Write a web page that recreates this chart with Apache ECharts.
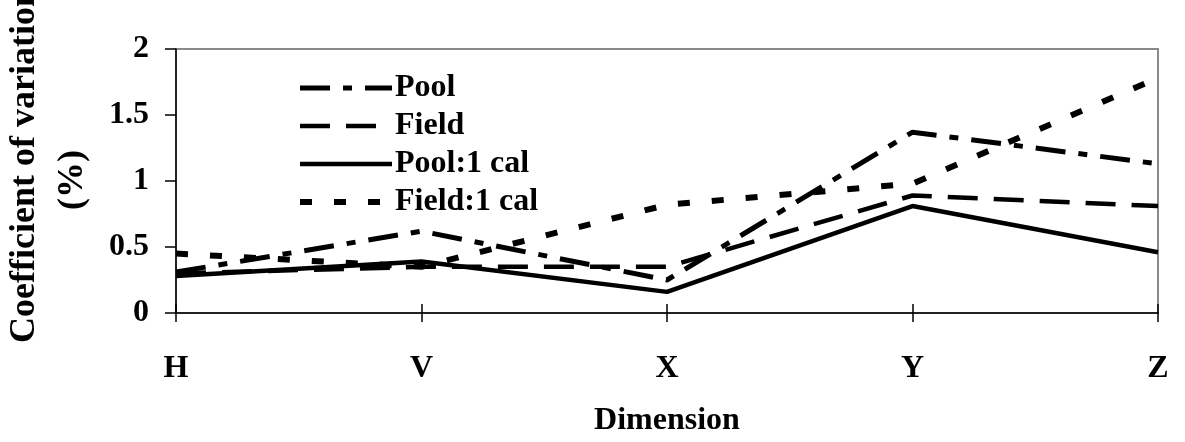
<!DOCTYPE html>
<html><head><meta charset="utf-8">
<script src="https://cdn.jsdelivr.net/npm/echarts@6/dist/echarts.min.js"></script>
<style>html,body{margin:0;padding:0;background:#fff}#c{width:1185px;height:442px}</style>
</head><body><div id="c"></div>
<script>
const categories = ['H','V','X','Y','Z'];
const pool = [0.31, 0.62, 0.25, 1.37, 1.13];
const field = [0.30, 0.35, 0.35, 0.89, 0.81];
const pool1cal = [0.28, 0.39, 0.16, 0.81, 0.46];
const field1cal = [0.45, 0.35, 0.82, 0.98, 1.78];
const yTicks = [0, 0.5, 1, 1.5, 2];
const yTitle1 = 'Coefficient of variation';
const yTitle2 = '(%)';

const font = '"Liberation Serif", "Times New Roman", serif';
const FS = 32;
const chart = echarts.init(document.getElementById('c'));
const dashes = { 'Pool': [30, 13, 9, 13], 'Field': [30, 16], 'Pool:1 cal': 'solid', 'Field:1 cal': [12, 22] };
const widths = { 'Pool': 5, 'Field': 4.5, 'Pool:1 cal': 4.5, 'Field:1 cal': 6 };
const mk = (name, data) => ({
  name, type: 'line', data, symbol: 'none', smooth: false,
  itemStyle: { color: '#000' },
  lineStyle: { color: '#000', width: widths[name], type: dashes[name], cap: 'butt' }
});
chart.setOption({
  animation: false,
  grid: { left: 176, right: 27, top: 49, bottom: 129, show: true, borderColor: '#8a8a8a', borderWidth: 2, backgroundColor: 'transparent', outerBoundsMode: 'none', containLabel: false },
  legend: {
    left: 297, top: 72, padding: 0, orient: 'vertical', itemGap: 6, itemWidth: 92, itemHeight: 14, itemGap: 6,
    textStyle: { fontFamily: font, fontWeight: 'bold', fontSize: FS, color: '#000', padding: [0, 0, 0, -2] },
    itemStyle: { opacity: 0 },
    data: ['Pool','Field','Pool:1 cal','Field:1 cal'].map(n => ({
      name: n, itemStyle: { opacity: 0 },
      lineStyle: { color: '#000', width: widths[n], type: dashes[n], cap: 'butt' }
    }))
  },
  graphic: [
    { type: 'text', x: 25, y: 165, rotation: Math.PI / 2,
      style: { text: yTitle1, font: 'bold 36px "Liberation Serif", serif', fill: '#000', align: 'center', verticalAlign: 'middle' } },
    { type: 'text', x: 73, y: 180, rotation: Math.PI / 2,
      style: { text: yTitle2, font: 'bold 36px "Liberation Serif", serif', fill: '#000', align: 'center', verticalAlign: 'middle' } }
  ],
  xAxis: [{
    type: 'category', data: categories, boundaryGap: false,
    axisLine: { lineStyle: { color: '#000', width: 1.5 } },
    axisTick: { show: true, length: 9, lineStyle: { color: '#000', width: 1.5 } },
    axisLabel: { fontFamily: font, fontWeight: 'bold', fontSize: FS, color: '#000', margin: 40 },
    name: 'Dimension', nameLocation: 'middle', nameGap: 92,
    nameTextStyle: { fontFamily: font, fontWeight: 'bold', fontSize: FS, color: '#000' }
  }, {
    type: 'category', data: categories, boundaryGap: false, position: 'bottom',
    axisLine: { show: false },
    axisTick: { show: true, inside: true, length: 9, lineStyle: { color: '#000', width: 1.5 } },
    axisLabel: { show: false }
  }],
  yAxis: {
    type: 'value', min: 0, max: 2, interval: 0.5,
    axisLine: { show: true, lineStyle: { color: '#000', width: 1.5 } },
    axisTick: { show: true, length: 11, lineStyle: { color: '#000', width: 1.5 } },
    splitLine: { show: false },
    axisLabel: { fontFamily: font, fontWeight: 'bold', fontSize: FS, color: '#000', margin: 27,
      formatter: v => { const t = yTicks.find(x => Math.abs(x - v) < 1e-9); return t === undefined ? '' : String(t); } }
  },
  series: ['Pool','Field','Pool:1 cal','Field:1 cal'].map((n, i) => mk(n, [pool, field, pool1cal, field1cal][i]))
});
</script></body></html>
